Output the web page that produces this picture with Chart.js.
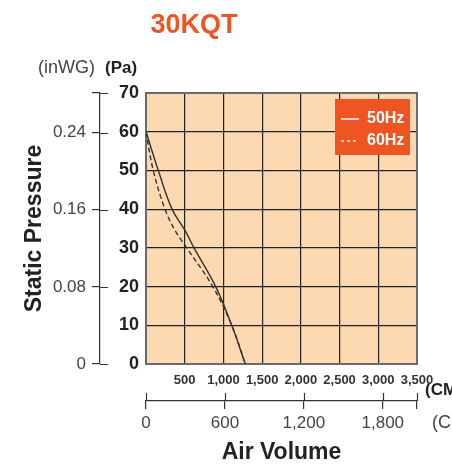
<!DOCTYPE html>
<html>
<head>
<meta charset="utf-8">
<script src="https://cdn.jsdelivr.net/npm/chart.js@4.4.1/dist/chart.umd.min.js"></script>
<style>
  html, body { margin: 0; padding: 0; background: #ffffff; }
  #wrap { width: 452px; height: 466px; }
</style>
</head>
<body>
<div id="wrap"><canvas id="fanChart" width="452" height="466"></canvas></div>
<script>
// Values
const seriesLabels = ['50Hz', '60Hz'];
const flow50 = [0, 159, 336, 504, 620, 900, 1107, 1283];
const press50 = [60, 50, 40, 34.5, 30, 20, 10, 0];
const flow60 = [0, 94, 245, 375, 526, 862, 1107, 1283];
const press60 = [60, 50, 40, 34.5, 30, 20, 10, 0];

const inwgTicks = [0, 0.08, 0.16, 0.24];
const cfmTicks = [0, 600, 1200, 1800];
const cmhMax = 3500;
const paMax = 70;

const PA_PER_INWG = 249.09;
const CMH_PER_CFM = 1.699;

const SANS = "'Liberation Sans', Arial, sans-serif";

const toPoints = (xs, ys) => xs.map((x, i) => ({ x: x, y: ys[i] }));

// plot background, frame, legend box, extra labels
const decor = {
    id: 'decor',
    beforeDraw(chart) {
        const { ctx, chartArea: a } = chart;
        ctx.save();
        ctx.fillStyle = '#fcd9b0';
        ctx.fillRect(a.left, a.top, a.right - a.left, a.bottom - a.top);
        ctx.restore();
    },
    afterLayout(chart) {
        const lg = chart.legend;
        const a = chart.chartArea;
        const w = lg.width, h = lg.height;
        lg.left = a.right - 82;
        lg.top = a.top + 12;
        lg.right = lg.left + w;
        lg.bottom = lg.top + h;
    },
    beforeDatasetsDraw(chart) {
        const { ctx, chartArea: a } = chart;
        ctx.save();
        ctx.strokeStyle = '#6a6a6a';
        ctx.lineWidth = 2;
        ctx.strokeRect(a.left, a.top, a.right - a.left, a.bottom - a.top);
        const lg = chart.legend;
        ctx.fillStyle = '#ef5523';
        ctx.fillRect(lg.left, lg.top - 6, 75, 56);
        ctx.restore();
        lg.draw();
    },
    afterDraw(chart) {
        const { ctx } = chart;
        const y2 = chart.scales.y2, x2 = chart.scales.x2;
        ctx.save();
        // other half of the crossing ticks
        ctx.strokeStyle = '#333';
        ctx.lineWidth = 1.2;
        ctx.beginPath();
        y2.ticks.forEach(t => {
            const py = Math.round(y2.getPixelForValue(t.value)) + 0.5;
            ctx.moveTo(y2.right, py);
            ctx.lineTo(y2.right + 8, py);
        });
        x2.ticks.forEach(t => {
            const px = Math.round(x2.getPixelForValue(t.value)) + 0.5;
            ctx.moveTo(px, x2.top);
            ctx.lineTo(px, x2.top - 8);
        });
        ctx.stroke();

        ctx.textBaseline = 'middle';
        ctx.textAlign = 'center';
        ctx.fillStyle = '#ef5523';
        ctx.font = 'bold 27px ' + SANS;
        ctx.fillText('30KQT', 194, 26);

        ctx.textAlign = 'left';
        ctx.fillStyle = '#444';
        ctx.font = '18px ' + SANS;
        ctx.fillText('(inWG)', 38, 68);
        ctx.fillStyle = '#222';
        ctx.font = 'bold 17px ' + SANS;
        ctx.fillText('(Pa)', 105, 68);
        ctx.fillText('(CMH)', 425, 390);
        ctx.fillStyle = '#444';
        ctx.font = '18px ' + SANS;
        ctx.fillText('(CFM)', 432, 423);
        ctx.restore();
    }
};

const ctx = document.getElementById('fanChart');

new Chart(ctx, {
    type: 'line',
    data: {
        datasets: [{
            label: seriesLabels[0],
            data: toPoints(flow50, press50),
            borderColor: '#333',
            borderWidth: 1.4,
            pointRadius: 0,
            tension: 0.4
        }, {
            label: seriesLabels[1],
            data: toPoints(flow60, press60),
            borderColor: '#333',
            borderWidth: 1.4,
            borderDash: [5, 3],
            pointRadius: 0,
            tension: 0.4
        }]
    },
    options: {
        responsive: false,
        animation: false,
        layout: { padding: { left: 0, right: 35, top: 93, bottom: 0 } },
        plugins: {
            title: { display: false },
            tooltip: { enabled: false },
            legend: {
                position: 'chartArea',
                align: 'start',
                fullSize: false,
                labels: {
                    color: '#fff',
                    font: { family: SANS, size: 16, weight: 'bold' },
                    usePointStyle: true,
                    pointStyle: 'line',
                    pointStyleWidth: 18,
                    boxHeight: 16,
                    padding: 6,
                    generateLabels(chart) {
                        const items = Chart.defaults.plugins.legend.labels.generateLabels(chart);
                        items.forEach(it => {
                            const ds = chart.data.datasets[it.datasetIndex];
                            it.strokeStyle = '#fff';
                            it.fillStyle = '#fff';
                            it.fontColor = '#fff';
                            it.lineWidth = 1.5;
                            it.lineDash = ds.borderDash ? [3, 3] : [];
                            it.pointStyle = 'line';
                        });
                        return items;
                    }
                }
            }
        },
        scales: {
            x: {
                type: 'linear',
                position: 'bottom',
                weight: 0,
                min: 0,
                max: cmhMax,
                grid: { color: '#222', lineWidth: 1.2, drawTicks: false },
                border: { display: false },
                ticks: {
                    stepSize: 500,
                    padding: 9,
                    color: '#333',
                    font: { family: SANS, size: 13, weight: 'bold' },
                    maxRotation: 0,
                    autoSkip: false,
                    callback: v => v === 0 ? '' : v.toLocaleString('en-US')
                },
                afterFit: s => { s.height = 37; }
            },
            x2: {
                type: 'linear',
                position: 'bottom',
                weight: 1,
                min: 0,
                max: cmhMax / CMH_PER_CFM,
                afterBuildTicks: s => {
                    s.ticks = cfmTicks.concat([cmhMax / CMH_PER_CFM]).map(v => ({ value: v }));
                },
                grid: { drawOnChartArea: false, drawTicks: true, tickLength: 8, color: '#333', lineWidth: 1.2 },
                border: { display: true, color: '#333', width: 1.2 },
                ticks: {
                    padding: 4,
                    color: '#444',
                    font: { family: SANS, size: 17 },
                    maxRotation: 0,
                    autoSkip: false,
                    callback: v => cfmTicks.includes(v) ? v.toLocaleString('en-US') : ''
                },
                title: {
                    display: true,
                    text: 'Air Volume',
                    color: '#222',
                    font: { family: SANS, size: 23, weight: 'bold' },
                    padding: { top: 0, bottom: 0 }
                },
                afterFit: s => { s.height = 65; }
            },
            y: {
                type: 'linear',
                position: 'left',
                weight: 0,
                min: 0,
                max: paMax,
                grid: { color: '#222', lineWidth: 1.2, drawTicks: false },
                border: { display: false },
                ticks: {
                    stepSize: 10,
                    padding: 7,
                    color: '#222',
                    font: { family: SANS, size: 18, weight: 'bold' }
                },
                afterFit: s => { s.width = 46; }
            },
            y2: {
                type: 'linear',
                position: 'left',
                weight: 1,
                min: 0,
                max: paMax / PA_PER_INWG,
                afterBuildTicks: s => {
                    s.ticks = inwgTicks.concat([paMax / PA_PER_INWG]).map(v => ({ value: v }));
                },
                grid: { drawOnChartArea: false, drawTicks: true, tickLength: 8, color: '#333', lineWidth: 1.2 },
                border: { display: true, color: '#333', width: 1.2 },
                ticks: {
                    padding: 6,
                    color: '#444',
                    font: { family: SANS, size: 17 },
                    autoSkip: false,
                    callback: v => inwgTicks.includes(v) ? (v === 0 ? '0' : v.toFixed(2)) : ''
                },
                title: {
                    display: true,
                    text: 'Static Pressure',
                    color: '#222',
                    font: { family: SANS, size: 23, weight: 'bold' },
                    padding: { top: 21, bottom: 2 }
                },
                afterFit: s => { s.width = 100; }
            }
        }
    },
    plugins: [decor]
});
</script>
</body>
</html>
